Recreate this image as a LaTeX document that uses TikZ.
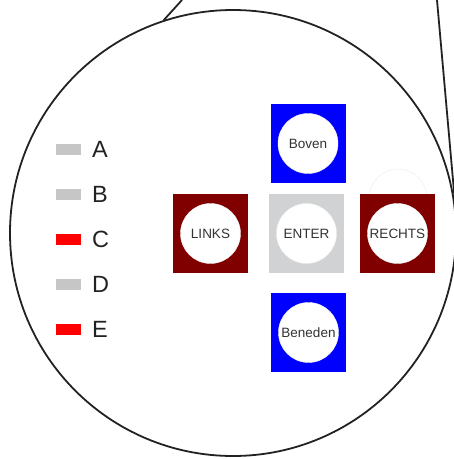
\documentclass[tikz,border=0pt]{standalone}
\usepackage{fontspec}
\setmainfont{Liberation Sans}
\usepackage{tikz}
\usetikzlibrary{shapes,positioning}
\definecolor{padblue}{HTML}{0000FF}
\definecolor{padred}{HTML}{800000}
\definecolor{padgrey}{HTML}{D1D2D4}
\definecolor{lgrey}{HTML}{C6C6C6}
\definecolor{ink}{HTML}{222222}
\definecolor{keyink}{HTML}{333333}
\begin{document}
\begin{tikzpicture}[x=1pt, y=-1pt]
\tikzstyle{key} = [rectangle, minimum width=75pt, minimum height=79pt, inner sep=0pt]
\tikzstyle{knob} = [circle, fill=white, draw=gray!12, minimum size=60pt, inner sep=0pt, text=keyink, font=\fontsize{13.5}{16}\selectfont]
\tikzstyle{swatch} = [rectangle, minimum width=25pt, minimum height=11pt, inner sep=0pt]
\tikzstyle{letter} = [anchor=west, inner sep=0pt, text=ink, font=\fontsize{23.5}{27}\selectfont]
\useasboundingbox (0,0) rectangle (454,459);
% magnifier
\node (lens) [circle, draw=ink, line width=1.8pt, minimum size=446pt, inner sep=0pt] at (233,233) {};
\coordinate (apexL) at (182,0);
\coordinate (apexR) at (437,0);
\coordinate (endR) at (461,270);
\draw [ink, line width=1.8pt] (apexL) -- (lens.108.5);
\draw [ink, line width=1.8pt] (apexR) -- (endR);
% legend
\foreach \name/\col [count=\i] in {A/lgrey, B/lgrey, C/red, D/lgrey, E/red} {
  \node (sw\name) [swatch, fill=\col] at (68.5, 104+45*\i) {};
  \node (lab\name) [letter] at (92, 104+45*\i) {\name};
}
% keys
\node (ghost) [circle, draw=gray!18, minimum size=58pt, inner sep=0pt] at (398,198) {};
\node (boven) [key, fill=padblue] at (308,143.5) {};
\node (links) [key, fill=padred] at (210.5,233.5) {};
\node (enter) [key, fill=padgrey] at (306.5,233.5) {};
\node (rechts) [key, fill=padred] at (397.5,233.5) {};
\node (beneden) [key, fill=padblue] at (308.5,332.5) {};
\node (bovenk) [knob] at (boven) {Boven};
\node (linksk) [knob] at (links) {LINKS};
\node (enterk) [knob] at (enter) {ENTER};
\node (rechtsk) [knob] at (rechts) {RECHTS};
\node (benedenk) [knob] at (beneden) {Beneden};
\end{tikzpicture}
\end{document}
